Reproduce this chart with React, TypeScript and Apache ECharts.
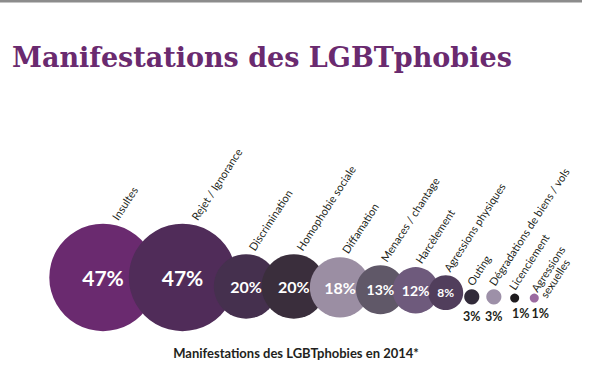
import React, { useEffect, useRef } from "react";
import * as echarts from "echarts";

const CATEGORIES = [
  "Insultes",
  "Rejet / Ignorance",
  "Discrimination",
  "Homophobie sociale",
  "Diffamation",
  "Menaces / chantage",
  "Harcèlement",
  "Agressions physiques",
  "Outing",
  "Dégradations de biens / vols",
  "Licenciement",
  "Agressions\nsexuelles",
];
const VALUES = [47, 47, 20, 20, 18, 13, 12, 8, 3, 3, 1, 1];
const COLORS = [
  "#6a2a6f", "#502c59", "#45304e", "#3a2e3c", "#9b8ea3", "#605868",
  "#6e5a7c", "#513e5c", "#322b3a", "#9d90a8", "#1e1b1e", "#9b6aa0",
];
const TITLE = "Manifestations des LGBTphobies";
const CAPTION = "Manifestations des LGBTphobies en 2014*";

const W = 592;
const H = 366;

// bubble radius from value (infographic scale)
const radiusOf = (v: number) => Math.max(4.5, 9 * Math.sqrt(v) - 8);

export default function App() {
  const ref = useRef<HTMLDivElement>(null);
  useEffect(() => {
    if (!ref.current) return;
    const chart = echarts.init(ref.current, undefined, { renderer: "svg" });

    // packed, overlapping layout computed from radii
    const radii = VALUES.map(radiusOf);
    const xs: number[] = [];
    let x = 103;
    radii.forEach((r, i) => {
      if (i > 0) {
        const s = radii[i - 1] + r;
        x += s < 30 ? 0.4 * s + 16 : 0.74 * s;
      }
      xs.push(x);
    });
    const ys = radii.map((r) => 300 - 0.42 * r);

    const bubbleData = VALUES.map((v, i) => {
      const r = radii[i];
      const big = r >= 12;
      const tiny = r < 6;
      return {
        name: CATEGORIES[i],
        value: [xs[i], ys[i], v],
        symbolSize: r * 2,
        itemStyle: { color: COLORS[i], opacity: 1 },
        label: big
          ? {
              show: true,
              position: "inside",
              formatter: `${v}%`,
              color: "#ffffff",
              fontFamily: "Lato",
              fontWeight: "bold",
              fontSize: Math.round(0.25 * r + 8),
            }
          : {
              show: true,
              position: "bottom",
              distance: 6,
              offset: tiny ? [6, -2] : [0, 0],
              formatter: `${v}%`,
              color: "#231f20",
              fontFamily: "Lato",
              fontWeight: "bold",
              fontSize: 12.5,
            },
      };
    });

    const nameData = VALUES.map((v, i) => {
      const multi = CATEGORIES[i].indexOf("\n") >= 0;
      return {
        name: CATEGORIES[i],
        value: [xs[i], ys[i], v],
        symbolSize: radii[i] * 2,
        label: multi
          ? { position: ["95%", 0], verticalAlign: "middle" }
          : undefined,
      };
    });

    chart.setOption({
      animation: false,
      backgroundColor: "#ffffff",
      title: [
        {
          text: TITLE,
          left: 7,
          top: 39,
          textStyle: {
            fontFamily: "DejaVu Serif",
            fontWeight: "bold",
            fontSize: 27,
            color: "#6a2a6f",
          },
        },
        {
          text: CAPTION,
          left: "center",
          top: 341,
          textStyle: {
            fontFamily: "Lato",
            fontWeight: "bold",
            fontSize: 13,
            color: "#231f20",
          },
        },
      ],
      graphic: [
        {
          type: "line",
          shape: { x1: 0, y1: 1, x2: 582, y2: 1 },
          style: { stroke: "#8c8c8c", lineWidth: 3 },
        },
      ],
      grid: { left: 0, right: 0, top: 0, bottom: 0 },
      xAxis: { type: "value", min: 0, max: W, show: false },
      yAxis: { type: "value", min: 0, max: H, inverse: true, show: false },
      series: [
        {
          type: "scatter",
          data: bubbleData,
          silent: true,
          itemStyle: { opacity: 1 },
        },
        {
          type: "scatter",
          data: nameData,
          silent: true,
          itemStyle: { color: "rgba(0,0,0,0)", opacity: 1 },
          label: {
            show: true,
            formatter: (p: any) => p.name,
            position: ["65%", -2],
            align: "left",
            verticalAlign: "bottom",
            rotate: 57,
            color: "#231f20",
            fontFamily: "Lato",
            fontSize: 11,
            lineHeight: 11,
          },
        },
      ],
    });
    return () => chart.dispose();
  }, []);
  return (
    <div
      ref={ref}
      style={{ position: "fixed", left: 0, top: 0, width: W, height: H }}
    />
  );
}
